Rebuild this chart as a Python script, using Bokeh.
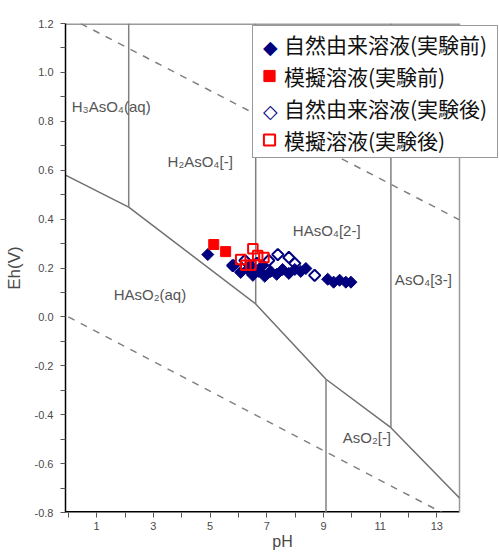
import math
from bokeh.plotting import figure
from bokeh.models import FixedTicker, Legend, LegendItem, PrintfTickFormatter
from bokeh.core.properties import value
from bokeh.embed import file_html
from bokeh.resources import INLINE

# ---- measured data ----
nat_before_ph = [4.92, 5.84, 6.08, 6.33, 6.51, 6.72, 6.93, 7.14, 7.35, 7.56, 7.78, 7.99, 8.20, 8.38, 6.44, 6.86, 9.15, 9.36, 9.57, 9.79, 9.97]
nat_before_eh = [0.255, 0.210, 0.182, 0.194, 0.170, 0.186, 0.166, 0.186, 0.174, 0.194, 0.178, 0.194, 0.186, 0.198, 0.210, 0.210, 0.154, 0.142, 0.150, 0.142, 0.142]

sim_before_ph = [5.13, 5.55]
sim_before_eh = [0.296, 0.267]

nat_after_ph = [5.80, 6.23, 6.65, 7.07, 7.39, 7.78, 7.99, 8.69]
nat_after_eh = [0.210, 0.231, 0.219, 0.231, 0.255, 0.243, 0.219, 0.170]

sim_after_ph = [6.08, 6.26, 6.44, 6.51, 6.68, 6.90]
sim_after_eh = [0.235, 0.211, 0.211, 0.279, 0.251, 0.243]

series_labels = ["自然由来溶液(実験前)", "模擬溶液(実験前)", "自然由来溶液(実験後)", "模擬溶液(実験後)"]
diamond_keys = ["◆", " ", "◇", " "]

# phase-diagram boundaries
redox_ph = [-0.1, 2.13, 6.61, 9.09, 11.38, 13.8]
redox_eh = [0.58, 0.449, 0.053, -0.255, -0.453, -0.741]
water_upper_ph = [0.0, 13.8]
water_upper_eh = [1.226, 0.397]
water_lower_ph = [0.0, 13.8]
water_lower_eh = [0.0, -0.838]
vert_ph = [2.13, 6.61, 11.38, 9.09]
vert_eh_low = [0.449, 0.053, -0.453, -0.8]
vert_eh_high = [1.2, 1.2, 1.2, -0.255]

species_names = ["H₃AsO₄(aq)", "H₂AsO₄[-]", "HAsO₄[2-]", "AsO₄[3-]", "HAsO₂(aq)", "AsO₂[-]"]
species_ph = [0.12, 3.50, 7.92, 11.52, 1.60, 9.68]
species_eh = [0.862, 0.636, 0.352, 0.154, 0.093, -0.494]

x_ticks = [1, 3, 5, 7, 9, 11, 13]
x_minor = [0, 2, 4, 6, 8, 10, 12]
y_ticks = [-0.8, -0.6, -0.4, -0.2, 0.0, 0.2, 0.4, 0.6, 0.8, 1.0, 1.2]
y_minor = [-0.7, -0.5, -0.3, -0.1, 0.1, 0.3, 0.5, 0.7, 0.9, 1.1]

# chart extent (the diagram box) and page layout
PH_MIN, PH_MAX = -0.1, 13.8
EH_MIN, EH_MAX = -0.8, 1.2
W, H = 499, 554
B_LEFT, B_TOP, B_BOTTOM = 65, 23, 42
BOX_RIGHT_PX = 459                      # right edge of the diagram box
PX_PER_PH = (BOX_RIGHT_PX - B_LEFT) / (PH_MAX - PH_MIN)
X_END = PH_MIN + (W - B_LEFT) / PX_PER_PH   # frame runs to the canvas edge (room for the legend)

NAVY = "#00007f"
RED = "#ff0000"
GRAY = "#808080"
TXT = "#4a4a4a"

p = figure(width=W, height=H, x_range=(PH_MIN, X_END), y_range=(EH_MIN, EH_MAX),
           output_backend="svg", toolbar_location=None,
           min_border_left=B_LEFT, min_border_right=0, min_border_top=B_TOP, min_border_bottom=B_BOTTOM)
p.grid.visible = False
p.outline_line_color = None
p.background_fill_color = "white"

for ax in (p.xaxis[0], p.yaxis[0]):
    ax.axis_line_color = "black"
    ax.axis_line_width = 1.5
    ax.major_tick_line_color = "#555555"
    ax.minor_tick_line_color = "#555555"
    ax.major_tick_out = 5
    ax.major_tick_in = 0
    ax.minor_tick_out = 5
    ax.minor_tick_in = 0
    ax.major_label_text_font = "Liberation Sans"
    ax.major_label_text_font_size = "11px"
    ax.major_label_text_color = TXT
    ax.axis_label_text_font = "Liberation Sans"
    ax.axis_label_text_font_style = "normal"
    ax.axis_label_text_color = TXT

p.xaxis.ticker = FixedTicker(ticks=x_ticks, minor_ticks=x_minor)
p.xaxis.major_label_standoff = 4
p.xaxis.axis_line_color = None
p.xaxis.axis_label = "pH"
p.xaxis.axis_label_text_font_size = "16px"
p.xaxis.axis_label_standoff = 0

p.yaxis.ticker = FixedTicker(ticks=y_ticks, minor_ticks=y_minor)
p.yaxis.formatter = PrintfTickFormatter(format="%.1f")
p.yaxis.major_label_standoff = 7
p.yaxis.axis_label = "Eh(V)"
p.yaxis.axis_label_text_font_size = "17px"
p.yaxis.axis_label_standoff = 8

# diagram box: bottom axis line (black), top and right borders (gray)
p.segment(x0=[PH_MIN], y0=[EH_MIN], x1=[PH_MAX], y1=[EH_MIN], line_color="black", line_width=3)
p.segment(x0=[PH_MIN], y0=[EH_MAX], x1=[PH_MAX], y1=[EH_MAX], line_color="#9a9a9a", line_width=3)
p.segment(x0=[PH_MAX], y0=[EH_MIN], x1=[PH_MAX], y1=[EH_MAX], line_color="#9a9a9a", line_width=1.5)

# boundaries
p.line(water_upper_ph, water_upper_eh, line_color=GRAY, line_width=1.5, line_dash="7 7")
p.line(water_lower_ph, water_lower_eh, line_color=GRAY, line_width=1.5, line_dash="7 7")
p.line(redox_ph, redox_eh, line_color="#707070", line_width=1.5)
p.segment(x0=vert_ph, y0=vert_eh_low, x1=vert_ph, y1=vert_eh_high, line_color=GRAY, line_width=1.5)

p.text(x=species_ph, y=species_eh, text=species_names, text_font=value("Liberation Sans"),
       text_font_size="15px", text_color="#555555", text_align="left", text_baseline="middle")

# data points
r1 = p.scatter(nat_before_ph, nat_before_eh, marker="square", angle=math.pi / 4, size=8.5,
               fill_color=NAVY, line_color=NAVY, line_width=1)
r3 = p.scatter(nat_after_ph, nat_after_eh, marker="square", angle=math.pi / 4, size=8,
               fill_color=None, line_color=NAVY, line_width=2)
r2 = p.scatter(sim_before_ph, sim_before_eh, marker="square", size=10,
               fill_color=RED, line_color=RED, line_width=1)
r4 = p.scatter(sim_after_ph, sim_after_eh, marker="square", size=9.5,
               fill_color=None, line_color=RED, line_width=2)

# invisible proxies (legend keys for the diamonds are drawn by a second, transparent legend)
d1 = p.scatter(x=[], y=[], marker="square", fill_alpha=0, line_alpha=0)
d3 = p.scatter(x=[], y=[], marker="square", fill_alpha=0, line_alpha=0)
d0 = p.scatter(x=[], y=[], marker="square", fill_alpha=0, line_alpha=0)

LEG_LEFT, LEG_TOP, LEG_PAD, ITEM_H, ITEM_SP, GLYPH_W = 252, 27, 2, 31, 1, 28
LEG_H = 2 * LEG_PAD + 4 * ITEM_H + 3 * ITEM_SP
frame_bottom_px = H - B_BOTTOM
leg_y = frame_bottom_px - (LEG_TOP + LEG_H)

legend = Legend(items=[LegendItem(label=series_labels[0], renderers=[d1]),
                       LegendItem(label=series_labels[1], renderers=[r2]),
                       LegendItem(label=series_labels[2], renderers=[d3]),
                       LegendItem(label=series_labels[3], renderers=[r4])],
                location=(LEG_LEFT - B_LEFT, leg_y))
legend.label_text_font = "Noto Sans CJK JP"
legend.label_text_font_size = "21px"
legend.label_text_color = "#111111"
legend.label_height = ITEM_H
legend.label_width = 211
legend.glyph_width = GLYPH_W
legend.glyph_height = ITEM_H
legend.label_standoff = 1
legend.spacing = ITEM_SP
legend.padding = LEG_PAD
legend.margin = 0
legend.border_line_color = "#333333"
legend.border_line_width = 1
legend.background_fill_color = "white"
legend.background_fill_alpha = 1.0
p.add_layout(legend, "center")

# second legend: diamond key symbols, centred on the key column of the first legend
key_center_px = LEG_LEFT + LEG_PAD + GLYPH_W / 2 - 3
keys = Legend(items=[LegendItem(label=k, renderers=[d0]) for k in diamond_keys],
              location=(key_center_px - 1 - LEG_PAD - B_LEFT, leg_y))
keys.label_text_font = "DejaVu Sans"
keys.label_text_font_size = "19px"
keys.label_text_font_style = "bold"
keys.label_text_color = NAVY
keys.label_text_align = "center"
keys.label_height = ITEM_H
keys.label_width = 10
keys.glyph_width = 1
keys.glyph_height = ITEM_H
keys.label_standoff = 0
keys.spacing = ITEM_SP
keys.padding = LEG_PAD
keys.margin = 0
keys.border_line_color = None
keys.background_fill_alpha = 0
p.add_layout(keys, "center")

open("out.html", "w").write(file_html(p, INLINE))
